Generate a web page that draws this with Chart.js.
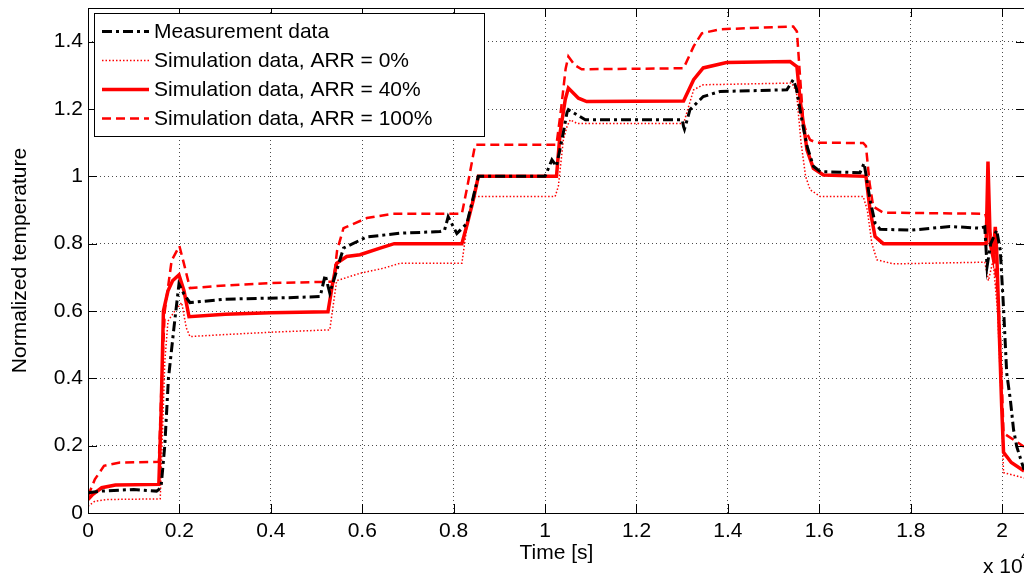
<!DOCTYPE html>
<html>
<head>
<meta charset="utf-8">
<script src="https://cdn.jsdelivr.net/npm/chart.js@4.4.1/dist/chart.umd.min.js"></script>
<style>
  html, body { margin: 0; padding: 0; background: #fff; overflow: hidden; }
  #wrap { width: 1024px; height: 574px; overflow: hidden; }
</style>
</head>
<body>
<div id="wrap"><canvas id="tempChart" width="1030" height="574"></canvas></div>
<script>
// values: [time in s, normalized temperature]
const measured = [
  [0,0.06],[300,0.065],[1000,0.07],[1500,0.065],[1550,0.07],[1600,0.08],[1680,0.2],[1760,0.4],
  [1880,0.55],[1990,0.68],[2100,0.65],[2230,0.625],[3000,0.635],[4500,0.64],[5080,0.643],
  [5190,0.707],[5290,0.653],[5440,0.72],[5590,0.787],[6100,0.82],[6830,0.831],[7700,0.836],
  [7800,0.84],[7880,0.88],[8070,0.83],[8290,0.86],[8450,0.95],[8540,1.0],[10000,1.0],
  [10150,1.049],[10250,1.03],[10400,1.13],[10480,1.19],[10510,1.198],[10880,1.168],
  [13000,1.168],[13030,1.148],[13050,1.14],[13170,1.198],[13460,1.237],[13830,1.252],
  [15290,1.257],[15430,1.287],[15500,1.26],[15600,1.18],[15730,1.09],[15870,1.03],
  [16020,1.014],[16890,1.011],[16980,1.039],[17110,0.93],[17220,0.861],[17330,0.843],
  [18000,0.84],[18860,0.851],[19520,0.846],[19620,0.85],[19670,0.732],[19750,0.80],
  [19880,0.84],[19960,0.78],[20030,0.61],[20100,0.415],[20180,0.336],[20250,0.247],
  [20320,0.197],[20480,0.128]
];
const simArr0 = [
  [0,0.02],[150,0.035],[400,0.04],[1580,0.042],[1620,0.2],[1680,0.45],[1750,0.57],[1900,0.6],
  [2050,0.625],[2150,0.55],[2230,0.524],[3000,0.53],[4000,0.537],[5290,0.544],[5440,0.69],
  [5950,0.712],[6460,0.727],[6830,0.742],[8180,0.742],[8290,0.85],[8430,0.94],[10220,0.94],
  [10290,0.97],[10400,1.108],[10480,1.148],[10550,1.168],[10700,1.157],[13030,1.157],
  [13250,1.257],[13460,1.272],[15400,1.277],[15500,1.25],[15600,1.1],[15700,1.0],
  [15800,0.96],[16020,0.94],[16960,0.94],[17050,0.9],[17150,0.8],[17260,0.752],[17620,0.74],
  [19620,0.745],[19700,0.69],[19800,0.75],[19900,0.6],[19990,0.3],[20030,0.12],[20480,0.104]
];
const simArr40 = [
  [0,0.04],[100,0.055],[300,0.075],[600,0.083],[1550,0.085],[1600,0.30],[1650,0.60],
  [1750,0.66],[1850,0.69],[1990,0.707],[2100,0.66],[2210,0.583],[3000,0.59],[4000,0.595],
  [5250,0.598],[5350,0.68],[5440,0.742],[5660,0.762],[5950,0.767],[6390,0.787],[6700,0.80],
  [8180,0.80],[8300,0.86],[8430,0.93],[8540,1.0],[10250,1.0],[10330,1.13],[10440,1.227],
  [10510,1.262],[10730,1.232],[10910,1.222],[13030,1.224],[13250,1.287],[13460,1.322],
  [13970,1.338],[15360,1.341],[15510,1.326],[15580,1.227],[15730,1.079],[15870,1.024],
  [16090,1.004],[17020,1.0],[17110,0.9],[17220,0.821],[17400,0.8],[19610,0.80],[19650,0.80],
  [19690,1.044],[19740,0.80],[19800,0.76],[19850,0.85],[19880,0.78],[19920,0.61],
  [19990,0.316],[20030,0.18],[20200,0.15],[20480,0.125]
];
const simArr100 = [
  [0,0.05],[150,0.10],[350,0.14],[700,0.15],[1550,0.152],[1600,0.35],[1680,0.60],[1830,0.75],
  [2000,0.793],[2100,0.74],[2230,0.668],[3000,0.676],[4000,0.683],[5370,0.687],[5450,0.78],
  [5590,0.846],[6100,0.876],[6680,0.889],[8180,0.889],[8300,0.97],[8470,1.094],[10250,1.094],
  [10350,1.2],[10450,1.32],[10510,1.356],[10650,1.33],[10800,1.318],[13030,1.321],
  [13250,1.386],[13430,1.425],[13830,1.437],[15430,1.445],[15510,1.43],[15650,1.158],
  [15720,1.13],[15800,1.108],[15940,1.1],[16960,1.099],[17020,1.09],[17100,0.98],
  [17180,0.91],[17400,0.892],[19630,0.889],[19700,0.85],[19800,0.80],[19920,0.62],
  [19990,0.40],[20030,0.237],[20480,0.197]
];

const seriesNames = [
  'Measurement data',
  'Simulation data, ARR = 0%',
  'Simulation data, ARR = 40%',
  'Simulation data, ARR = 100%'
];

// tick positions (x in s, shown as x10^4)
const xTicks = [0, 2000, 4000, 6000, 8000, 10000, 12000, 14000, 16000, 18000, 20000];
const yTicks = [0, 0.2, 0.4, 0.6, 0.8, 1, 1.2, 1.4];

const FONT = '"Liberation Sans", Arial, sans-serif';

function toPoints(list) {
  return list.map(p => ({ x: p[0], y: p[1] }));
}

function fmtTick(v) {
  return String(Math.round(v * 10) / 10);
}

// legend box inside the plot, top left
const legendBox = {
  id: 'legendBox',
  afterDraw(chart) {
    const ctx = chart.ctx;
    ctx.save();
    ctx.fillStyle = '#fff';
    ctx.fillRect(94, 13, 390, 123);
    ctx.strokeStyle = '#000';
    ctx.lineWidth = 1;
    ctx.strokeRect(94.5, 13.5, 390, 123);
    chart.data.datasets.forEach((ds, i) => {
      const y = 31.5 + i * 29;
      ctx.beginPath();
      ctx.setLineDash(ds.borderDash || []);
      ctx.strokeStyle = ds.borderColor;
      ctx.lineWidth = ds.borderWidth;
      ctx.moveTo(102, y);
      ctx.lineTo(149, y);
      ctx.stroke();
      ctx.setLineDash([]);
      ctx.fillStyle = '#000';
      ctx.font = '21px ' + FONT;
      ctx.textBaseline = 'middle';
      ctx.fillText(ds.label, 154, y + 1);
    });
    ctx.restore();
  }
};

// matlab style box with inward ticks + the x10^4 exponent
const axesFrame = {
  id: 'axesFrame',
  afterDatasetsDraw(chart) {
    const { ctx, chartArea: a, scales: { x, y } } = chart;
    const tl = 9;
    ctx.save();
    ctx.strokeStyle = '#000';
    ctx.lineWidth = 1;
    ctx.strokeRect(a.left + 0.5, a.top + 0.5, a.right - a.left, a.bottom - a.top);
    ctx.beginPath();
    x.ticks.forEach(t => {
      const px = Math.round(x.getPixelForValue(t.value)) + 0.5;
      ctx.moveTo(px, a.bottom); ctx.lineTo(px, a.bottom - tl);
      ctx.moveTo(px, a.top); ctx.lineTo(px, a.top + tl);
    });
    y.ticks.forEach(t => {
      const py = Math.round(y.getPixelForValue(t.value)) + 0.5;
      ctx.moveTo(a.left, py); ctx.lineTo(a.left + tl, py);
      ctx.moveTo(a.right, py); ctx.lineTo(a.right - tl, py);
    });
    ctx.stroke();

    ctx.fillStyle = '#000';
    ctx.textBaseline = 'middle';
    ctx.font = '21px ' + FONT;
    ctx.fillText('x 10', 983, 567);
    ctx.font = '15px ' + FONT;
    ctx.fillText('4', 1021, 556);
    ctx.restore();
  }
};

const ctx = document.getElementById('tempChart').getContext('2d');
new Chart(ctx, {
  type: 'line',
  data: {
    datasets: [
      {
        label: seriesNames[0],
        data: toPoints(measured),
        borderColor: '#000',
        borderWidth: 3,
        borderDash: [10, 4, 3, 4]
      },
      {
        label: seriesNames[1],
        data: toPoints(simArr0),
        borderColor: '#ff0000',
        borderWidth: 1.5,
        borderDash: [1.5, 2]
      },
      {
        label: seriesNames[2],
        data: toPoints(simArr40),
        borderColor: '#ff0000',
        borderWidth: 3.5
      },
      {
        label: seriesNames[3],
        data: toPoints(simArr100),
        borderColor: '#ff0000',
        borderWidth: 2.5,
        borderDash: [9, 5]
      }
    ]
  },
  options: {
    responsive: false,
    animation: false,
    devicePixelRatio: 1,
    layout: { padding: { top: 8, right: 5, left: 0, bottom: 0 } },
    elements: {
      point: { radius: 0, hoverRadius: 0 },
      line: { tension: 0, fill: false }
    },
    plugins: {
      legend: { display: false },
      tooltip: { enabled: false }
    },
    scales: {
      x: {
        type: 'linear',
        min: 0,
        max: 20500,
        afterBuildTicks: s => { s.ticks = xTicks.map(v => ({ value: v })); },
        afterFit: s => { s.height = 61; s.paddingLeft = 0; s.paddingRight = 0; },
        grid: { color: 'rgba(0,0,0,0.7)', lineWidth: 1, drawTicks: false },
        border: { display: false, dash: [1, 3] },
        ticks: {
          autoSkip: false,
          maxRotation: 0,
          padding: 6,
          color: '#000',
          font: { family: FONT, size: 21 },
          callback: v => fmtTick(v / 10000)
        },
        title: {
          display: true,
          text: 'Time [s]',
          color: '#000',
          font: { family: FONT, size: 21 },
          padding: { top: 0, bottom: 8 }
        }
      },
      y: {
        min: 0,
        max: 1.5,
        afterBuildTicks: s => { s.ticks = yTicks.map(v => ({ value: v })); },
        afterFit: s => { s.width = 88; s.paddingTop = 0; s.paddingBottom = 0; },
        grid: { color: 'rgba(0,0,0,0.7)', lineWidth: 1, drawTicks: false },
        border: { display: false, dash: [1, 3] },
        ticks: {
          padding: 5,
          color: '#000',
          font: { family: FONT, size: 21 },
          callback: v => fmtTick(v)
        },
        title: {
          display: true,
          text: 'Normalized temperature',
          color: '#000',
          font: { family: FONT, size: 21 },
          padding: { top: 8, bottom: 0 }
        }
      }
    }
  },
  plugins: [axesFrame, legendBox]
});
</script>
</body>
</html>
